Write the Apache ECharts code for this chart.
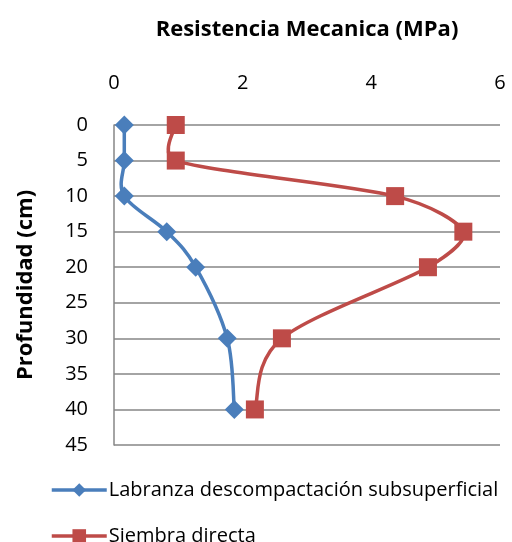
<!DOCTYPE html>
<html>
<head>
<meta charset="utf-8">
<script src="https://cdn.jsdelivr.net/npm/echarts@6/dist/echarts.min.js"></script>
<style>
html,body{margin:0;padding:0;background:#fff;}
#chart{width:512px;height:542px;}
</style>
</head>
<body>
<div id="chart"></div>
<script>
const depths = [0, 5, 10, 15, 20, 30, 40];
const labranza = [0.16, 0.16, 0.16, 0.82, 1.27, 1.76, 1.87];
const siembra = [0.96, 0.96, 4.37, 5.43, 4.88, 2.61, 2.19];
const seriesNames = ['Labranza descompactación subsuperficial', 'Siembra directa'];
const xTitle = 'Resistencia Mecanica (MPa)';
const yTitle = 'Profundidad (cm)';

const colors = ['#4A7EBB', '#BE4B48'];
const font = '"Open Sans", sans-serif';
const chart = echarts.init(document.getElementById('chart'), null, {renderer: 'canvas'});
const toPairs = (xs) => xs.map((v, i) => [v, depths[i]]);

function dist(a, b) { return Math.hypot(b[0] - a[0], b[1] - a[1]) || 1e-9; }

// Excel-like smoothed curve (cubic Bezier, arms limited to half segment) built via api.coord
function curveSeries(pairs, color, z) {
  return {
    type: 'custom', coordinateSystem: 'cartesian2d', z: z, silent: true,
    encode: {x: 0, y: 1},
    data: pairs,
    renderItem: function (params, api) {
      if (params.dataIndex !== 0) return;
      const p = pairs.map(d => api.coord(d));
      const n = p.length;
      let d = 'M' + p[0][0] + ' ' + p[0][1];
      for (let i = 0; i < n - 1; i++) {
        const p0 = p[Math.max(i - 1, 0)], p1 = p[i], p2 = p[i + 1], p3 = p[Math.min(i + 2, n - 1)];
        const d02 = dist(p0, p2), d12 = dist(p1, p2), d13 = dist(p1, p3);
        let f1, f2;
        const a = d02 / 6 >= d12 / 2, b = d13 / 6 >= d12 / 2;
        if (!a && !b) { f1 = f2 = 1 / 6; }
        else if (a && b) { f1 = d12 / d02 / 2; f2 = d12 / d13 / 2; }
        else if (a) { f1 = f2 = d12 / d02 / 2; }
        else { f1 = f2 = d12 / d13 / 2; }
        const c1x = p1[0] + (p2[0] - p0[0]) * f1, c1y = p1[1] + (p2[1] - p0[1]) * f1;
        const c2x = p2[0] - (p3[0] - p1[0]) * f2, c2y = p2[1] - (p3[1] - p1[1]) * f2;
        d += ' C' + c1x + ' ' + c1y + ' ' + c2x + ' ' + c2y + ' ' + p2[0] + ' ' + p2[1];
      }
      return {
        type: 'path',
        shape: {pathData: d},
        style: {fill: 'none', stroke: color, lineWidth: 3.5, lineJoin: 'round', lineCap: 'round'}
      };
    }
  };
}

chart.setOption({
  animation: false,
  backgroundColor: '#fff',
  grid: {left: 114, right: 12, top: 125, bottom: 97, containLabel: false},
  xAxis: {
    type: 'value', position: 'top', min: 0, max: 6, interval: 2,
    name: xTitle, nameLocation: 'middle', nameGap: 84,
    nameTextStyle: {fontFamily: font, fontWeight: 'bold', fontSize: 22, color: '#000'},
    axisLine: {show: false}, axisTick: {show: false},
    splitLine: {show: false},
    axisLabel: {fontFamily: font, fontSize: 20, color: '#000', margin: 32}
  },
  yAxis: {
    type: 'value', inverse: true, min: 0, max: 45, interval: 5,
    name: yTitle, nameLocation: 'middle', nameGap: 77, nameRotate: 90,
    nameTextStyle: {fontFamily: font, fontWeight: 'bold', fontSize: 22, color: '#000'},
    axisLine: {show: true, lineStyle: {color: '#868686', width: 1.5}},
    axisTick: {show: false},
    splitLine: {show: true, lineStyle: {color: '#868686', width: 1.5}},
    axisLabel: {fontFamily: font, fontSize: 20, color: '#000', margin: 26}
  },
  legend: {
    orient: 'vertical', left: 50, top: 479, height: 80, itemGap: 24, padding: 0,
    itemWidth: 55, itemHeight: 17,
    lineStyle: {width: 3.5, opacity: 1},
    textStyle: {fontFamily: font, fontSize: 20, lineHeight: 22, color: '#000', padding: [0, 0, 0, -3]},
    data: seriesNames
  },
  series: [
    curveSeries(toPairs(labranza), colors[0], 1),
    curveSeries(toPairs(siembra), colors[1], 1),
    {
      name: seriesNames[0], type: 'line', data: toPairs(labranza), z: 3,
      symbol: 'diamond', symbolSize: 19,
      lineStyle: {color: colors[0], width: 3.5, opacity: 0},
      itemStyle: {color: colors[0]}
    },
    {
      name: seriesNames[1], type: 'line', data: toPairs(siembra), z: 3,
      symbol: 'rect', symbolSize: 18,
      lineStyle: {color: colors[1], width: 3.5, opacity: 0},
      itemStyle: {color: colors[1]}
    }
  ]
});
</script>
</body>
</html>
